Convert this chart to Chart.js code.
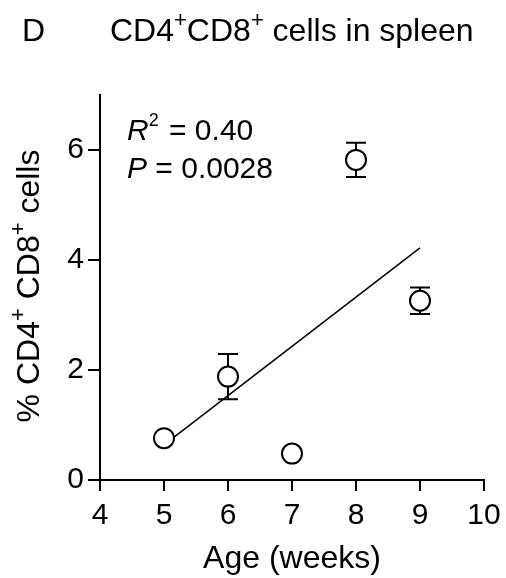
<!DOCTYPE html>
<html>
<head>
<meta charset="utf-8">
<script src="https://cdn.jsdelivr.net/npm/chart.js@4/dist/chart.umd.min.js"></script>
<style>
  html, body { margin: 0; padding: 0; background: #fff; }
  canvas { display: block; }
</style>
</head>
<body>
<canvas id="spleenChart" width="506" height="578"></canvas>
<script>
// data
const ages = [5, 6, 7, 8, 9];
const meanPct = [0.76, 1.88, 0.48, 5.82, 3.26];
const semPct = [0.04, 0.41, 0.04, 0.31, 0.24];
const fitAges = [5, 9];
const fitPct = [0.64, 4.22];
const xTicks = [4, 5, 6, 7, 8, 9, 10];
const yTicks = [0, 2, 4, 6];

const FONT = '"Liberation Sans", Arial, sans-serif';

// text with superscript / italic pieces
function fontFor(kind, size, supScale) {
    if (kind === 'i') return 'italic ' + size + 'px ' + FONT;
    if (kind === 'sup') return Math.round(size * supScale) + 'px ' + FONT;
    return size + 'px ' + FONT;
}
function richWidth(ctx, parts, size, supScale) {
    let w = 0;
    parts.forEach(p => {
        ctx.font = fontFor(p[1], size, supScale);
        w += ctx.measureText(p[0]).width + (p[2] || 0);
    });
    return w;
}
function drawRich(ctx, parts, x, y, size, supScale, raise) {
    ctx.textAlign = 'left';
    ctx.textBaseline = 'alphabetic';
    ctx.fillStyle = '#000';
    parts.forEach(p => {
        ctx.font = fontFor(p[1], size, supScale);
        const dy = p[1] === 'sup' ? -size * raise : 0;
        ctx.fillText(p[0], x, y + dy);
        x += ctx.measureText(p[0]).width + (p[2] || 0);
    });
}

const labelsPlugin = {
    id: 'labels',
    beforeDatasetsDraw(chart) {
        // error bars, drawn under the open circles
        const ctx = chart.ctx;
        const xs = chart.scales.x, ys = chart.scales.y;
        ctx.save();
        ctx.strokeStyle = '#000';
        ctx.lineWidth = 2;
        ages.forEach((a, i) => {
            const px = xs.getPixelForValue(a);
            const top = ys.getPixelForValue(meanPct[i] + semPct[i]);
            const bot = ys.getPixelForValue(meanPct[i] - semPct[i]);
            ctx.beginPath();
            ctx.moveTo(px, top); ctx.lineTo(px, bot);
            ctx.moveTo(px - 10, top); ctx.lineTo(px + 10, top);
            ctx.moveTo(px - 10, bot); ctx.lineTo(px + 10, bot);
            ctx.stroke();
        });
        ctx.restore();
    },
    afterDraw(chart) {
        const ctx = chart.ctx;
        ctx.save();
        drawRich(ctx, [['D', 'n']], 22, 41, 32, 0.68, 0.45);
        drawRich(ctx, [['CD4', 'n'], ['+', 'sup'], ['CD8', 'n'], ['+', 'sup'], [' cells in spleen', 'n']], 110, 41, 32, 0.68, 0.45);

        drawRich(ctx, [['R', 'i'], ['2', 'sup', 2], [' = 0.40', 'n']], 127, 140, 30, 0.6, 0.47);
        drawRich(ctx, [['P', 'i'], [' = 0.0028', 'n']], 127, 178, 30, 0.6, 0.47);

        // y axis title
        const yParts = [['% CD4', 'n'], ['+', 'sup'], [' CD8', 'n'], ['+', 'sup'], [' cells', 'n']];
        ctx.translate(39, 286);
        ctx.rotate(-Math.PI / 2);
        const w = richWidth(ctx, yParts, 32, 0.68);
        drawRich(ctx, yParts, -w / 2, 0, 32, 0.68, 0.45);
        ctx.restore();

        ctx.save();
        ctx.font = '32px ' + FONT;
        ctx.fillStyle = '#000';
        ctx.textAlign = 'center';
        ctx.textBaseline = 'alphabetic';
        ctx.fillText('Age (weeks)', 292, 568);
        ctx.restore();
    }
};

const ctx = document.getElementById('spleenChart').getContext('2d');
const chart = new Chart(ctx, {
    type: 'scatter',
    data: {
        datasets: [
            {
                type: 'line',
                data: fitAges.map((a, i) => ({ x: a, y: fitPct[i] })),
                borderColor: '#000',
                borderWidth: 1.5,
                pointRadius: 0,
                fill: false,
                order: 2
            },
            {
                data: ages.map((a, i) => ({ x: a, y: meanPct[i] })),
                pointStyle: 'circle',
                pointRadius: 10,
                pointBorderWidth: 2,
                pointBackgroundColor: '#fff',
                pointBorderColor: '#000',
                order: 1
            }
        ]
    },
    options: {
        responsive: false,
        animation: false,
        devicePixelRatio: 1,
        layout: { padding: { left: 0, right: 22, top: 95, bottom: 0 } },
        plugins: {
            legend: { display: false },
            tooltip: { enabled: false }
        },
        scales: {
            x: {
                type: 'linear',
                min: 4,
                max: 10,
                afterFit: s => { s.height = 98; s.paddingLeft = 0; s.paddingRight = 0; },
                afterBuildTicks: s => { s.ticks = xTicks.map(v => ({ value: v })); },
                border: { display: true, color: '#000', width: 2 },
                grid: { drawOnChartArea: false, drawTicks: true, tickLength: 11, color: '#000', lineWidth: 2 },
                ticks: { color: '#000', padding: 7, font: { family: FONT, size: 30 } }
            },
            y: {
                min: 0,
                max: 7,
                afterFit: s => { s.width = 100; s.paddingTop = 0; s.paddingBottom = 0; },
                afterBuildTicks: s => { s.ticks = yTicks.map(v => ({ value: v })); },
                border: { display: true, color: '#000', width: 2 },
                grid: { drawOnChartArea: false, drawTicks: true, tickLength: 12, color: '#000', lineWidth: 2 },
                ticks: { color: '#000', padding: 4, font: { family: FONT, size: 30 } }
            }
        }
    },
    plugins: [labelsPlugin]
});
</script>
</body>
</html>
